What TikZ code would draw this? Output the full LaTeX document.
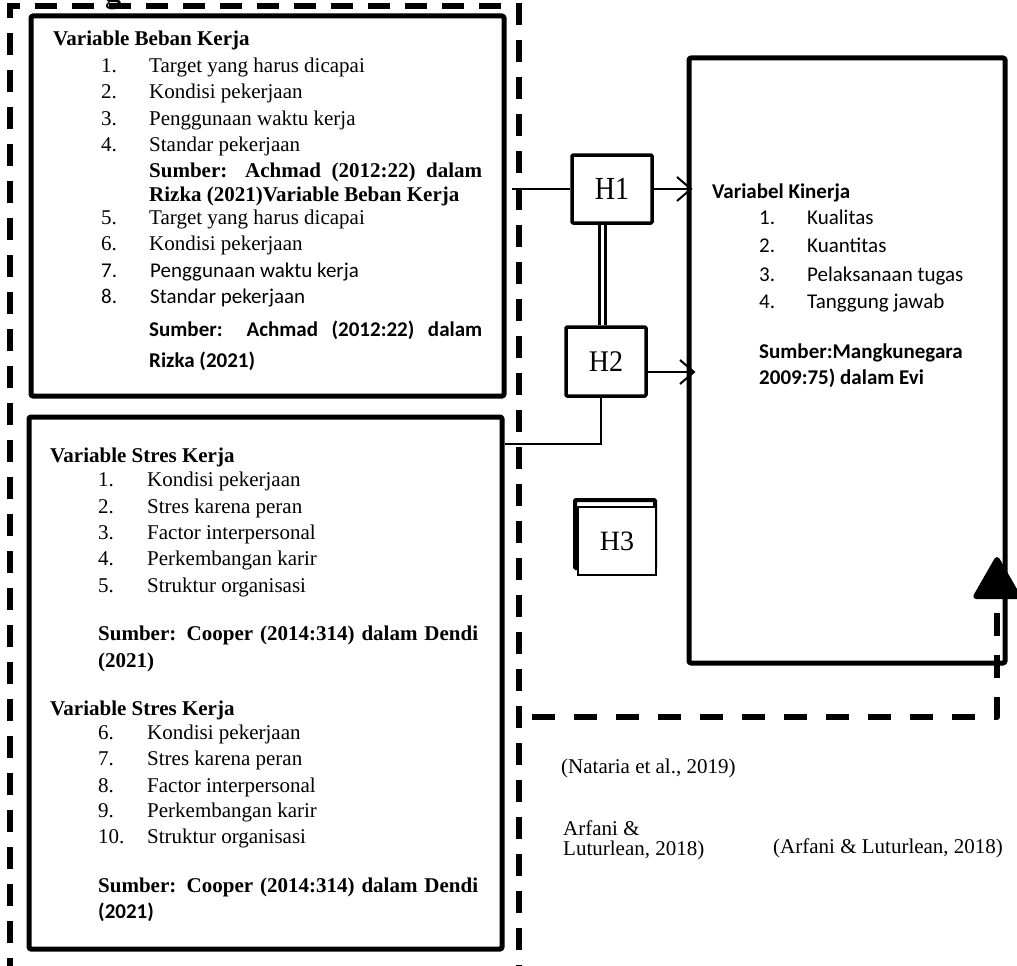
\documentclass[tikz,border=0pt]{standalone}
\usepackage{fontspec}
\usepackage{graphicx}
\setmainfont{Liberation Serif}
\newfontfamily\calibri{Carlito}
\usetikzlibrary{arrows.meta}
\newcommand\fsz{\fontsize{21}{25}\selectfont}
\begin{document}
\begin{tikzpicture}[x=1pt,y=-1pt,
  box/.style={draw, line width=5pt, line join=round, rounded corners=1.5pt, inner sep=0pt},
  hbox/.style={draw, line width=3.5pt, line join=round, rounded corners=1pt, inner sep=0pt, fill=white,
    minimum width=80pt, font=\fontsize{28}{30}\selectfont},
  tx/.style={anchor=base west, inner sep=0pt, font=\fsz},
  tb/.style={anchor=base west, inner sep=0pt, font=\fsz\bfseries},
  cx/.style={anchor=base west, inner sep=0pt, font=\fsz\calibri},
  cbx/.style={anchor=base west, inner sep=0pt, font=\fsz\calibri\bfseries},
  conn/.style={line width=2pt},
  barb/.style={conn, -{Straight Barb[length=14pt,width=24pt]}},
  outerdash/.style={line width=6pt, dash pattern=on 22pt off 15pt},
  feedback/.style={line width=5.5pt, dash pattern=on 23pt off 19pt, line join=round,
    -{Triangle[length=45pt,width=50pt,round]}}
]
\useasboundingbox (0,0) rectangle (1017,966);

% clipped heading fragment
\node[anchor=base, inner sep=0pt, font=\fontsize{34}{36}\selectfont] (head) at (113,3) {g};

% outer dashed frame
\draw[outerdash] (10,980) -- (10,6) -- (519,6) -- (519,980);

% boxes
\node[box, minimum width=473pt, minimum height=380pt] (box1) at (267.5,206) {};
\node[box, minimum width=473pt, minimum height=532pt] (box2) at (265.5,683) {};
\node[box, minimum width=316pt, minimum height=605pt] (kin) at (847,360.5) {};

% hypothesis boxes
\node[hbox, minimum height=68pt] (h1) at (612,189) {\scalebox{1}[1.15]{H1}};
\node[hbox, minimum height=69pt] (h2) at (606,361.5) {\scalebox{1}[1.07]{H2}};
\node[draw, line width=4pt, rounded corners=1pt, minimum width=80pt, minimum height=68pt] (h3b) at (615,534) {};
\node[draw, fill=white, line width=1.5pt, inner sep=0pt, minimum width=78pt, minimum height=68pt,
  font=\fontsize{28}{30}\selectfont] (h3) at (617,541) {H3};

% connectors
\coordinate (c1) at (512,189);
\draw[conn] (c1) -- (h1.west);
\draw[barb] (h1.east) -- ([xshift=6pt]h1.east -| kin.west);
\draw[barb] ([yshift=-10.5pt]h2.east) -- ([yshift=-10.5pt,xshift=9pt]h2.east -| kin.west);
\draw[line width=2.5pt, double, double distance=3.5pt] ([xshift=-9.5pt]h1.south) -- ([xshift=-9.5pt]h1.south |- h2.north);
\draw[conn] ([xshift=-5pt]h2.south) |- ([yshift=-29pt]box2.north east);

% feedback dashed arrow
\coordinate (fb0) at (532,717);
\coordinate (fb1) at (997,717);
\coordinate (fb2) at (997,557);
\draw[feedback] (fb0) -- (fb1) -- (fb2);

% box 1 text
\node[tb] (b1t) at (53,46) {Variable Beban Kerja};
\node[tx] (b1n1) at (101,72) {1.};  \node[tx] (b1i1) at (149,72) {Target yang harus dicapai};
\node[tx] (b1n2) at (101,98) {2.};  \node[tx] (b1i2) at (149,98) {Kondisi pekerjaan};
\node[tx] (b1n3) at (101,125) {3.}; \node[tx] (b1i3) at (149,125) {Penggunaan waktu kerja};
\node[tx] (b1n4) at (101,151) {4.}; \node[tx] (b1i4) at (149,151) {Standar pekerjaan};
\node[tb] (b1s1) at (149,177) {\makebox[333pt][s]{Sumber: Achmad (2012:22) dalam}};
\node[tb] (b1s2) at (149,201) {Rizka (2021)Variable Beban Kerja};
\node[tx] (b1n5) at (101,224) {5.}; \node[tx] (b1i5) at (149,224) {Target yang harus dicapai};
\node[tx] (b1n6) at (101,250) {6.}; \node[tx] (b1i6) at (149,250) {Kondisi pekerjaan};
\node[cx] (b1n7) at (101,277) {7.}; \node[cx] (b1i7) at (150,277) {Penggunaan waktu kerja};
\node[cx] (b1n8) at (101,303) {8.}; \node[cx] (b1i8) at (150,303) {Standar pekerjaan};
\node[cbx] (b1s3) at (149,336) {\makebox[333pt][s]{Sumber: Achmad (2012:22) dalam}};
\node[cbx] (b1s4) at (149,367) {Rizka (2021)};

% box 2 text
\node[tb] (b2t) at (50,462) {Variable Stres Kerja};
\node[tx] (b2n1) at (98,486) {1.}; \node[tx] (b2i1) at (147,486) {Kondisi pekerjaan};
\node[tx] (b2n2) at (98,513) {2.}; \node[tx] (b2i2) at (147,513) {Stres karena peran};
\node[tx] (b2n3) at (98,539) {3.}; \node[tx] (b2i3) at (147,539) {Factor interpersonal};
\node[tx] (b2n4) at (98,565) {4.}; \node[tx] (b2i4) at (147,565) {Perkembangan karir};
\node[tx] (b2n5) at (98,592) {5.}; \node[tx] (b2i5) at (147,592) {Struktur organisasi};
\node[tb] (b2s1) at (98,640) {\makebox[380pt][s]{Sumber: Cooper (2014:314) dalam Dendi}};
\node[tb] (b2s2) at (98,667) {(2021)};
\node[tb] (b2t2) at (50,715) {Variable Stres Kerja};
\node[tx] (b2n6) at (98,739) {6.}; \node[tx] (b2i6) at (147,739) {Kondisi pekerjaan};
\node[tx] (b2n7) at (98,765) {7.}; \node[tx] (b2i7) at (147,765) {Stres karena peran};
\node[tx] (b2n8) at (98,792) {8.}; \node[tx] (b2i8) at (147,792) {Factor interpersonal};
\node[tx] (b2n9) at (98,817) {9.}; \node[tx] (b2i9) at (147,817) {Perkembangan karir};
\node[tx] (b2n10) at (98,843) {10.}; \node[tx] (b2i10) at (147,843) {Struktur organisasi};
\node[tb] (b2s3) at (98,892) {\makebox[380pt][s]{Sumber: Cooper (2014:314) dalam Dendi}};
\node[cbx] (b2s4) at (98,918) {(2021)};

% kinerja text
\node[cbx] (kt) at (712,198) {Variabel Kinerja};
\node[cx] (kn1) at (759,224) {1.}; \node[cx] (ki1) at (807,224) {Kualitas};
\node[cx] (kn2) at (759,252) {2.}; \node[cx] (ki2) at (807,252) {Kuantitas};
\node[cx] (kn3) at (759,281) {3.}; \node[cx] (ki3) at (807,281) {Pelaksanaan tugas};
\node[cx] (kn4) at (759,308) {4.}; \node[cx] (ki4) at (807,308) {Tanggung jawab};
\node[cbx] (ks1) at (759,358) {Sumber:Mangkunegara};
\node[cbx] (ks2) at (759,384) {2009:75) dalam Evi};

% citations
\node[tx] (nat) at (561,773) {(Nataria et al., 2019)};
\node[tx] (arf1) at (563,835) {Arfani \&};
\node[tx] (arf2) at (563,855) {Luturlean, 2018)};
\node[tx] (arf3) at (773,853) {(Arfani \& Luturlean, 2018)};
\end{tikzpicture}
\end{document}
